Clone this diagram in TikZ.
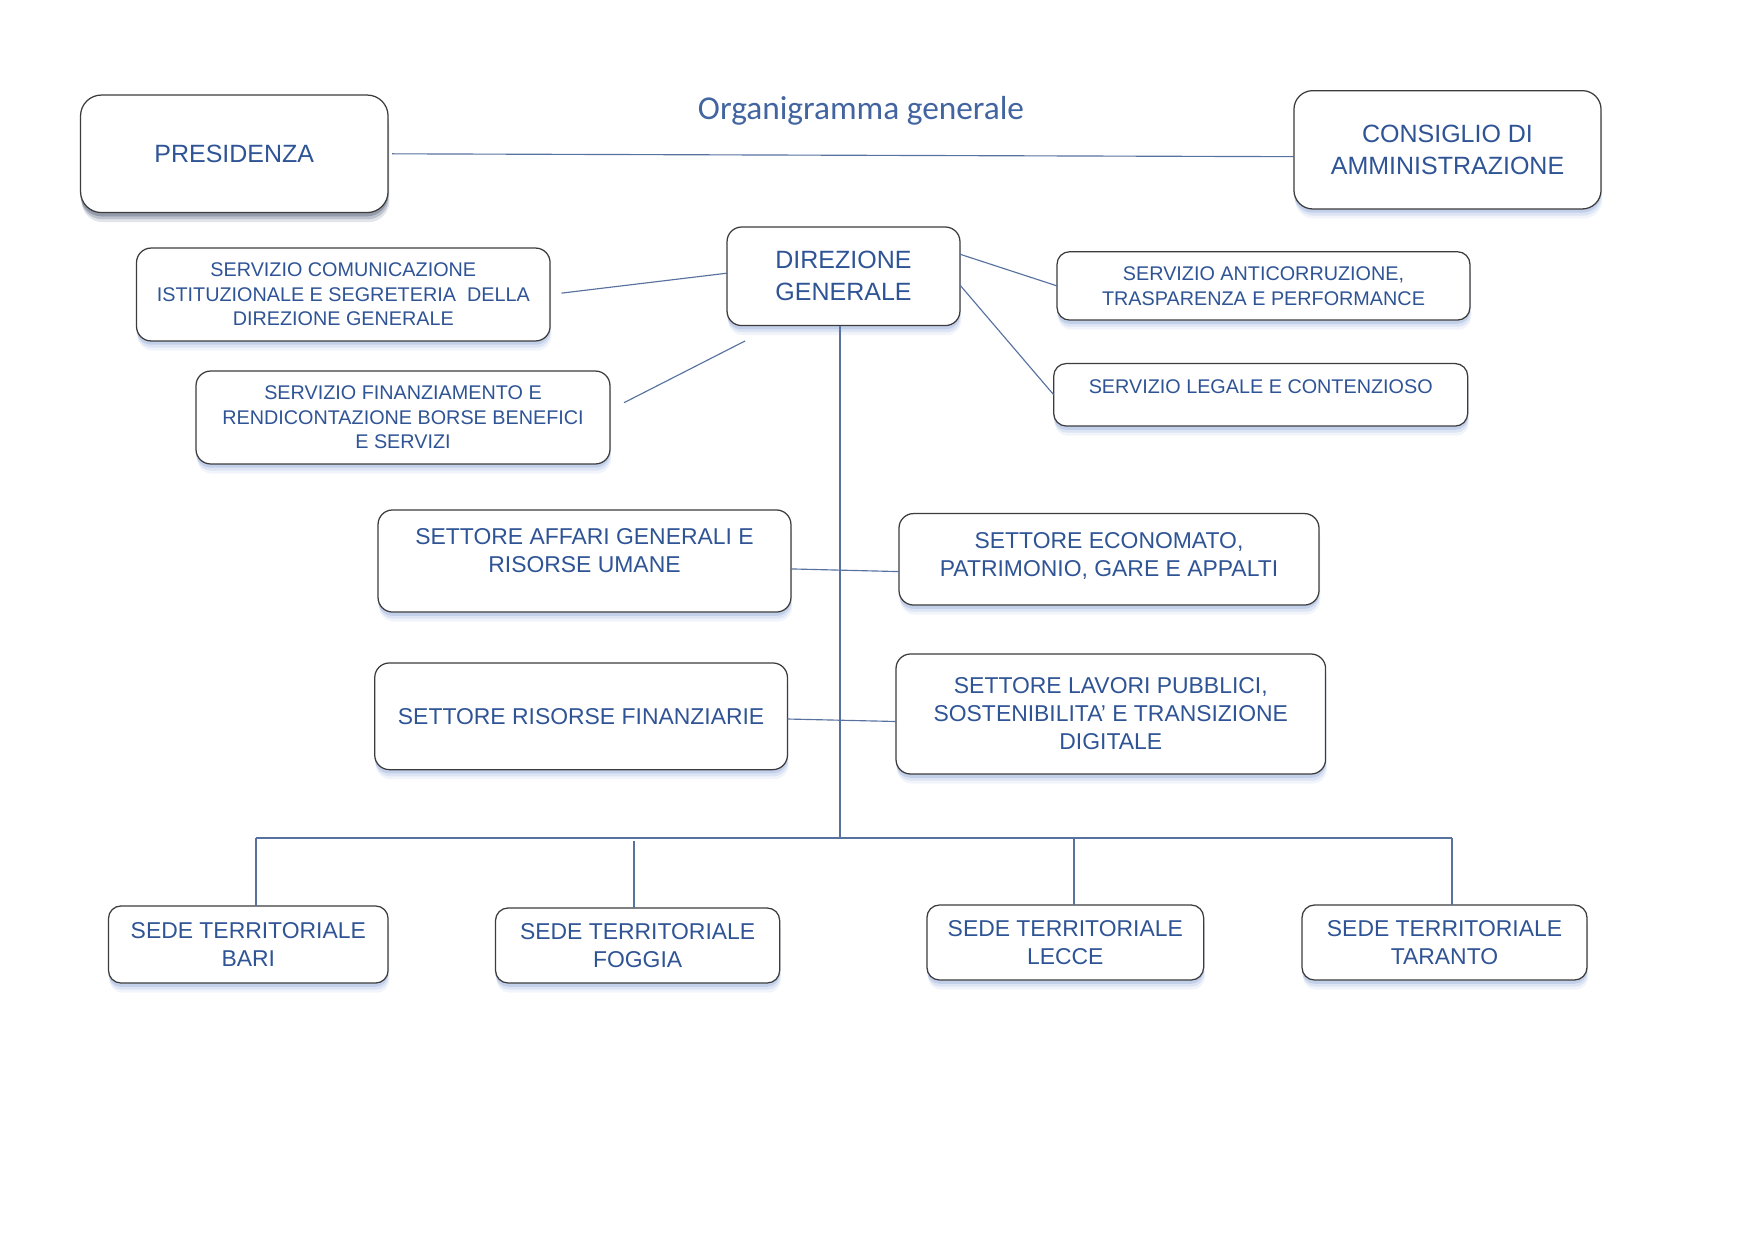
\documentclass[tikz,border=0pt]{standalone}
\usepackage{fontspec}
\setmainfont{Liberation Sans}
\newfontfamily\titlefont{Carlito}
\usetikzlibrary{shadows}
\definecolor{txt}{RGB}{47,84,150}
\definecolor{ttl}{RGB}{66,100,160}
\definecolor{conn}{RGB}{88,114,160}
\definecolor{edge}{RGB}{60,60,60}
\definecolor{shblue}{RGB}{120,150,210}
\definecolor{shgray}{RGB}{90,90,90}
\tikzset{
  softshadow/.style={
    general shadow={fill=#1,opacity=0.10,shadow yshift=-4.6pt,shadow xshift=0.6pt},
    general shadow={fill=#1,opacity=0.16,shadow yshift=-3.2pt,shadow xshift=0.3pt},
    general shadow={fill=#1,opacity=0.25,shadow yshift=-1.8pt}},
  box/.style={draw=edge, line width=0.6pt, fill=white, rounded corners=6pt,
    inner sep=0pt, outer sep=0pt, align=center, text=txt, softshadow=shblue},
  bigf/.style={font=\fontsize{12pt}{15.3pt}\selectfont},
  midf/.style={font=\fontsize{11pt}{13.4pt}\selectfont},
  smallf/.style={font=\fontsize{9.5pt}{11.8pt}\selectfont},
  link/.style={draw=conn, line width=0.55pt},
}
\begin{document}
\begin{tikzpicture}[x=0.48pt,y=-0.48pt]
\useasboundingbox (0,0) rectangle (1754,1241);
\fill[white] (0,0) rectangle (1754,1241);

\node[text=ttl, font=\titlefont\fontsize{16pt}{19pt}\selectfont] (title) at (861,110.5) {Organigramma generale};

\node[box, bigf, rounded corners=10pt, softshadow=shgray, minimum width=147.6pt, minimum height=56.4pt] (pres) at (234.3,153.8) {PRESIDENZA};
\node[box, bigf, rounded corners=9pt, minimum width=147.4pt, minimum height=56.8pt] (cons) at (1447.5,149.8) {CONSIGLIO DI\\AMMINISTRAZIONE};
\node[box, bigf, rounded corners=7pt, minimum width=111.8pt, minimum height=47.3pt] (dg) at (843.5,276.3) {DIREZIONE\\GENERALE};

\node[box, smallf, rounded corners=7pt, minimum width=198.5pt, minimum height=44.6pt] (scom) at (343.3,294.5) {SERVIZIO COMUNICAZIONE\\ISTITUZIONALE E SEGRETERIA\ \ DELLA\\DIREZIONE GENERALE};
\node[box, smallf, rounded corners=7pt, minimum width=198.7pt, minimum height=44.6pt] (sfin) at (403,417.5) {SERVIZIO FINANZIAMENTO E\\RENDICONTAZIONE BORSE BENEFICI\\E SERVIZI};
\node[box, smallf, rounded corners=6pt, minimum width=198.2pt, minimum height=32.8pt] (santi) at (1263.5,285.9) {SERVIZIO ANTICORRUZIONE,\\TRASPARENZA E PERFORMANCE};
\node[box, smallf, rounded corners=6pt, minimum width=198.7pt, minimum height=30pt, text depth=8.2pt] (sleg) at (1260.7,394.8) {SERVIZIO LEGALE E CONTENZIOSO};

\node[box, midf, rounded corners=7pt, minimum width=198.2pt, minimum height=49pt, text depth=10.2pt] (saff) at (584.5,561) {SETTORE AFFARI GENERALI E\\RISORSE UMANE};
\node[box, midf, rounded corners=7pt, minimum width=201.6pt, minimum height=43.9pt, text depth=4.6pt] (seco) at (1109,559.3) {SETTORE ECONOMATO,\\PATRIMONIO, GARE E APPALTI};
\node[box, midf, rounded corners=7pt, minimum width=198.1pt, minimum height=51.2pt] (srf) at (581.1,716.3) {SETTORE RISORSE FINANZIARIE};
\node[box, midf, rounded corners=7pt, minimum width=206.2pt, minimum height=57.6pt] (slav) at (1110.8,714) {SETTORE LAVORI PUBBLICI,\\SOSTENIBILITA' E TRANSIZIONE\\DIGITALE};

\node[box, midf, rounded corners=6pt, minimum width=134.2pt, minimum height=37pt] (bari) at (248.3,944.5) {SEDE TERRITORIALE\\BARI};
\node[box, midf, rounded corners=6pt, minimum width=136.4pt, minimum height=36pt] (fog) at (637.6,945.5) {SEDE TERRITORIALE\\FOGGIA};
\node[box, midf, rounded corners=6pt, minimum width=132.8pt, minimum height=36pt] (lec) at (1065.3,942.5) {SEDE TERRITORIALE\\LECCE};
\node[box, midf, rounded corners=6pt, minimum width=136.8pt, minimum height=36pt] (tar) at (1444.5,942.5) {SEDE TERRITORIALE\\TARANTO};

% connectors
\draw[link, shorten <=2pt] (pres.east) -- ([yshift=-3.3pt]cons.west);
\draw[link, shorten <=5.5pt] (scom.east) -- ([yshift=1.5pt]dg.west);
\coordinate (f1) at (624,402.7);
\coordinate (f2) at (745,341);
\draw[link] (f1) -- (f2);
\draw[link] ([yshift=10.6pt]dg.east) -- (santi.west);
\draw[link] ([yshift=-4.2pt]dg.east) -- (sleg.west);

\coordinate (b1) at (256,838);
\coordinate (b2) at (634,838);
\coordinate (b3) at (1074,838);
\coordinate (b4) at (1452,838);
\coordinate (vb) at (840,838);
\draw[link] (dg.south -| vb) -- (vb);
\draw[link] ([yshift=-3.8pt]saff.east) -- ([yshift=-5.9pt]seco.west);
\draw[link] ([yshift=-1.3pt]srf.east) -- ([yshift=-3.6pt]slav.west);
\draw[link] (b1) -- (b4);
\draw[link] (b1) -- (b1 |- bari.north);
\draw[link] ([yshift=-1.5pt]b2) -- (b2 |- fog.north);
\draw[link] (b3) -- (b3 |- lec.north);
\draw[link] (b4) -- (b4 |- tar.north);
\end{tikzpicture}
\end{document}
